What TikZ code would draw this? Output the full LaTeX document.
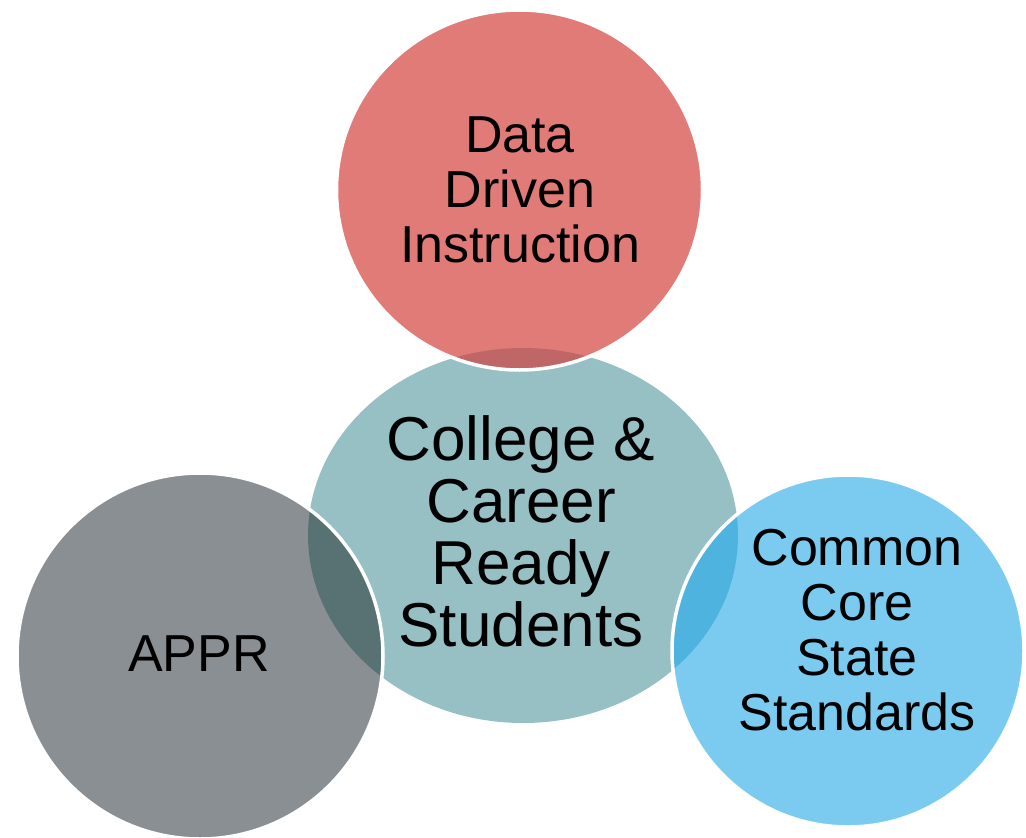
\documentclass[tikz,border=0pt]{standalone}
\usepackage{fontspec}
\setmainfont{Liberation Sans}
\definecolor{ddired}{HTML}{E07B77}
\definecolor{hubteal}{HTML}{97C0C4}
\definecolor{apprgray}{HTML}{8A8F93}
\definecolor{ccssblue}{HTML}{7BCBF0}
\definecolor{redlens}{HTML}{BF6666}
\definecolor{graylens}{HTML}{587274}
\definecolor{bluelens}{HTML}{4FB3DF}
% radii of the four discs
\def\hubrx{215pt}\def\hubry{187.5pt}
\def\redrx{183pt}\def\redry{180pt}
\def\grayr{183pt}
\def\bluer{176pt}
\begin{document}
\begin{tikzpicture}[x=1pt,y=-1pt,
  rim/.style={draw=white, line width=3.5pt},
  lbl/.style={align=center, inner sep=0pt, text=black,
              font=\fontsize{52}{55}\selectfont},
  hublbl/.style={lbl, font=\fontsize{62}{62}\selectfont}]
\useasboundingbox (0,0) rectangle (1026,838);
\clip (0,0) rectangle (1026,838);

\coordinate (hubc)  at (523,535.5);
\coordinate (redc)  at (519.5,190);
\coordinate (grayc) at (200,656);
\coordinate (bluec) at (848,651);

% central disc
\fill[hubteal] (hubc) ellipse [x radius=\hubrx, y radius=\hubry];

% left disc with its overlap
\fill[apprgray] (grayc) circle [radius=\grayr];
\begin{scope}
  \clip (grayc) circle [radius=\grayr];
  \fill[graylens] (hubc) ellipse [x radius=\hubrx, y radius=\hubry];
\end{scope}
\draw[rim] (grayc) circle [radius=\grayr];

% right disc with its overlap
\fill[ccssblue] (bluec) circle [radius=\bluer];
\begin{scope}
  \clip (bluec) circle [radius=\bluer];
  \fill[bluelens] (hubc) ellipse [x radius=\hubrx, y radius=\hubry];
\end{scope}
\draw[rim] (bluec) circle [radius=\bluer];

% top disc with its overlap
\fill[ddired] (redc) ellipse [x radius=\redrx, y radius=\redry];
\begin{scope}
  \clip (redc) ellipse [x radius=\redrx, y radius=\redry];
  \fill[redlens] (hubc) ellipse [x radius=\hubrx, y radius=\hubry];
\end{scope}
\draw[rim] (redc) ellipse [x radius=\redrx, y radius=\redry];

% labels
\node[lbl] (ddi) at (520,190) {Data\\Driven\\Instruction};
\node[hublbl] (ccr) at (521,531) {College \&\\Career\\Ready\\Students};
\node[lbl] (appr) at (199,654) {APPR};
\node[lbl] (ccss) at (857,630) {Common\\Core\\State\\Standards};
\end{tikzpicture}
\end{document}
